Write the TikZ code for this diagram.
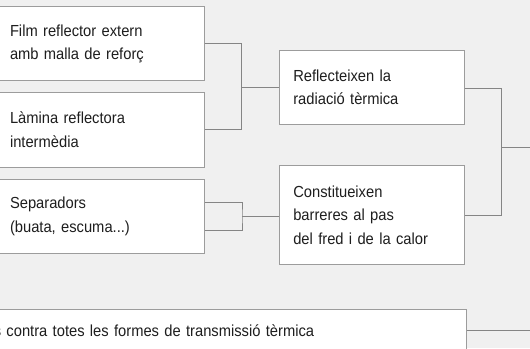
\documentclass[tikz,border=0pt]{standalone}
\usepackage{fontspec}
\setmainfont[FakeStretch=0.92]{Liberation Sans}
\usetikzlibrary{calc}
\definecolor{bgc}{HTML}{F0F0F0}
\definecolor{boxline}{HTML}{9C9C9C}
\definecolor{connc}{HTML}{858585}
\definecolor{txt}{HTML}{1E1E1E}
\tikzset{
  box/.style={draw=boxline, line width=1pt, fill=white, rectangle, inner xsep=14pt, inner ysep=0pt,
    align=left, text=txt, font=\fontsize{16}{23.5}\selectfont},
  conn/.style={draw=connc, line width=1pt}
}
\begin{document}
\begin{tikzpicture}[x=1pt,y=-1pt]
\useasboundingbox (0,0) rectangle (530,348);
\clip (0,0) rectangle (530,348);
\fill[bgc] (0,0) rectangle (530,348);
% left boxes
\node[box, minimum width=208pt, minimum height=74pt, text width=180pt] (b1) at (100,43.7) {Film reflector extern\\amb malla de reforç};
\node[box, minimum width=208pt, minimum height=74.3pt, text width=180pt] (b2) at (100,129.85) {Làmina reflectora\\intermèdia};
\node[box, minimum width=208pt, minimum height=73.7pt, text width=180pt] (b3) at (100,216.15) {Separadors\\(buata, escuma...)};
% middle boxes
\node[box, minimum width=184.7pt, minimum height=73.6pt, text width=156.7pt] (b4) at (371.65,87.5) {Reflecteixen la\\radiació tèrmica};
\node[box, minimum width=184.7pt, minimum height=98.3pt, text width=156.7pt] (b5) at (371.65,214.85) {Constitueixen\\barreres al pas\\del fred i de la calor};
% bottom box
\node[box, minimum width=486.9pt, minimum height=41.2pt, text width=458.9pt] (b6) at (223.25,330.3) {s contra totes les formes de transmissió tèrmica};
% junctions
\coordinate (j1) at (241.7,87.5);
\coordinate (j3) at (242,216.15);
\coordinate (j2) at (501.7,147.3);
\coordinate (e1) at (531,147.3);
\coordinate (e2) at (531,330.3);
% connectors
\draw[conn] (b1.east) -| (j1) |- (b2.east);
\draw[conn] (j1) -- (j1 -| b4.west);
\draw[conn] ($(b3.east)+(0,-14)$) -| (j3) |- ($(b3.east)+(0,14)$);
\draw[conn] (j3) -- (j3 -| b5.west);
\draw[conn] ($(b4.east)+(0,1.2)$) -| (j2) |- ($(b5.east)+(0,0.8)$);
\draw[conn] (j2) -- (e1);
\draw[conn] (b6.east) -- (e2);
\end{tikzpicture}
\end{document}
